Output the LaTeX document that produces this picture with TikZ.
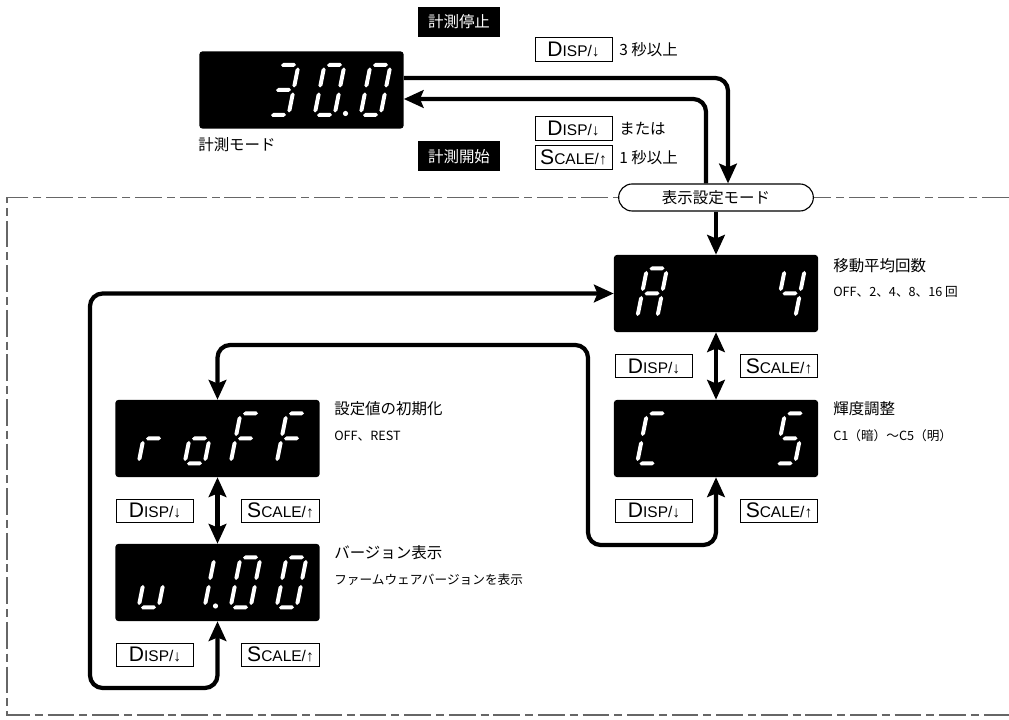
\documentclass[tikz,border=0pt]{standalone}
\usepackage{fontspec}
\setmainfont{Noto Sans CJK JP}
\newfontfamily\keyfont{Liberation Sans}
\usetikzlibrary{arrows.meta, shapes.misc}

% key caption: big first letter, small caps rest
\newcommand{\keytext}[2]{{\keyfont\fontsize{15}{15}\selectfont #1}{\keyfont\fontsize{11}{11}\selectfont #2}}

% seven segment parts
\newcommand{\sghor}[3]{\fill[white] (#1,#3) -- (#1+2,#3-2) -- (#2-2,#3-2) -- (#2,#3) -- (#2-2,#3+2) -- (#1+2,#3+2) -- cycle;}
\newcommand{\sgver}[3]{\fill[white] (#1,#2) -- (#1+2,#2+2) -- (#1+2,#3-2) -- (#1,#3) -- (#1-2,#3-2) -- (#1-2,#2+2) -- cycle;}
\newcommand{\segpa}{\sghor{2.5}{17.5}{-50}}
\newcommand{\segpg}{\sghor{2.5}{17.5}{-25}}
\newcommand{\segpd}{\sghor{2.5}{17.5}{0}}
\newcommand{\segpb}{\sgver{20}{-47.5}{-27.5}}
\newcommand{\segpc}{\sgver{20}{-22.5}{-2.5}}
\newcommand{\segpe}{\sgver{0}{-22.5}{-2.5}}
\newcommand{\segpf}{\sgver{0}{-47.5}{-27.5}}
\newcommand{\segdigit}[3]{%
	\begin{scope}[shift={(#1,#2)}, xslant=0.2]
		\foreach \sg in {#3} {\csname segp\sg\endcsname}
	\end{scope}}
\newcommand{\segdot}[2]{\fill[white] (#1+31,#2-1.5) circle (2.6);}

\begin{document}
\begin{tikzpicture}[
		x=0.025cm, y=-0.025cm,
		lcd/.style={
			rectangle,
			rounded corners=2pt,
			fill=black,
			minimum width=5.1cm,
			minimum height=1.925cm,
			inner sep=0pt
		},
		key/.style={
			rectangle,
			draw,
			line width=0.7pt,
			minimum width=1.925cm,
			minimum height=0.575cm,
			inner sep=0pt
		},
		blk/.style={
			rectangle,
			fill=black,
			text=white,
			minimum width=2.05cm,
			minimum height=0.75cm,
			font=\fontsize{11}{11}\selectfont
		},
		pill/.style={
			rounded rectangle,
			draw,
			fill=white,
			line width=0.8pt,
			minimum width=5.1cm,
			minimum height=0.675cm,
			font=\fontsize{11}{11}\selectfont
		},
		lbl/.style={
			anchor=west,
			inner sep=0pt,
			font=\fontsize{11}{11}\selectfont
		},
		sublbl/.style={
			anchor=west,
			inner sep=0pt,
			font=\fontsize{9}{9}\selectfont
		},
		flow/.style={
			-{Stealth[length=14pt, width=12.5pt, inset=2.5pt]},
			line width=3pt,
			rounded corners=9pt
		},
		flowboth/.style={
			{Stealth[length=14pt, width=12.5pt, inset=2.5pt]}-{Stealth[length=14pt, width=12.5pt, inset=2.5pt]},
			line width=3pt,
			rounded corners=9pt
		},
		frame/.style={
			draw=black!60,
			line width=0.9pt,
			dash pattern=on 19pt off 3.5pt on 5.7pt off 3.5pt
		}
		]
		\useasboundingbox (0,0) rectangle (1009,720);
		
		% measuring mode
		\node[lcd] (meas) at (301.5,90) {};
		\node[lbl] (measname) at (198,145) {計測モード};
		\node[blk] (stop) at (459,22) {計測停止};
		\node[blk] (start) at (459,156.5) {計測開始};
		
		\node[key] (kdisp1) at (573.5,49.5) {\keytext{D}{ISP/↓}};
		\node[lbl] (t3s) at (619,49.5) {3 秒以上};
		\node[key] (kdisp2) at (573.5,128.5) {\keytext{D}{ISP/↓}};
		\node[lbl] (tor) at (619,128.5) {または};
		\node[key] (kscale1) at (573.5,157.5) {\keytext{S}{CALE/↑}};
		\node[lbl] (t1s) at (619,157.5) {1 秒以上};
		
		% setting mode frame
		\draw[frame] (1009,197.5) -- (7,197.5) -- (7,715) -- (1009,715);
		\node[pill] (mode) at (716,197.5) {表示設定モード};
		
		% displays
		\node[lcd] (avg) at (716,293.5) {};
		\node[lcd] (bright) at (716,438.5) {};
		\node[lcd] (reset) at (217.5,438.5) {};
		\node[lcd] (version) at (217.5,582.5) {};
		
		\node[lbl] (avgname) at (833,266) {移動平均回数};
		\node[sublbl] (avgval) at (833,292) {OFF、2、4、8、16 回};
		\node[lbl] (brname) at (833,409) {輝度調整};
		\node[sublbl] (brval) at (833,436) {C1（暗）～C5（明）};
		\node[lbl] (rstname) at (334,409) {設定値の初期化};
		\node[sublbl] (rstval) at (334,436) {OFF、REST};
		\node[lbl] (vername) at (334,553) {バージョン表示};
		\node[sublbl] (verval) at (334,580) {ファームウェアバージョンを表示};
		
		\node[key] (avgdisp) at (654,366) {\keytext{D}{ISP/↓}};
		\node[key] (avgscale) at (779,366) {\keytext{S}{CALE/↑}};
		\node[key] (brdisp) at (654,510.5) {\keytext{D}{ISP/↓}};
		\node[key] (brscale) at (779,510.5) {\keytext{S}{CALE/↑}};
		\node[key] (rstdisp) at (155,510.5) {\keytext{D}{ISP/↓}};
		\node[key] (rstscale) at (280.5,510.5) {\keytext{S}{CALE/↑}};
		\node[key] (verdisp) at (155,654.5) {\keytext{D}{ISP/↓}};
		\node[key] (verscale) at (280.5,654.5) {\keytext{S}{CALE/↑}};
		
		% digits
		\segdigit{268.5}{115}{a,b,c,d,g}
		\segdigit{314.5}{115}{a,b,c,d,e,f}
		\segdot{314.5}{115}
		\segdigit{360.5}{115}{a,b,c,d,e,f}
		%--
		\segdigit{637}{318.5}{a,b,c,e,f,g}
		\segdigit{775}{318.5}{b,c,f,g}
		\segdigit{637}{463.5}{a,d,e,f}
		\segdigit{775}{463.5}{a,c,d,f,g}
		%--
		\segdigit{138.5}{463.5}{e,g}
		\segdigit{184.5}{463.5}{c,d,e,g}
		\segdigit{230.5}{463.5}{a,e,f,g}
		\segdigit{276.5}{463.5}{a,e,f,g}
		%--
		\segdigit{138.5}{607.5}{c,d,e}
		\segdigit{184.5}{607.5}{b,c}
		\segdot{184.5}{607.5}
		\segdigit{230.5}{607.5}{a,b,c,d,e,f}
		\segdigit{276.5}{607.5}{a,b,c,d,e,f}
		
		% connectors
		\draw[flow] (meas.east |- 0,78) -| (mode.north -| 728,0);
		\draw[flow] (mode.north -| 706,0) |- (meas.east |- 0,99);
		\draw[flow] (mode.south) -- (avg.north);
		%--
		\draw[flowboth] (avg) -- (bright);
		\draw[flowboth] (bright.south) |- (588,545) |- (reset.north |- 0,345) -- (reset.north);
		\draw[flowboth] (reset) -- (version);
		\draw[flowboth] (version.south) |- (90,688) |- (avg.west);
		
	\end{tikzpicture}
\end{document}
